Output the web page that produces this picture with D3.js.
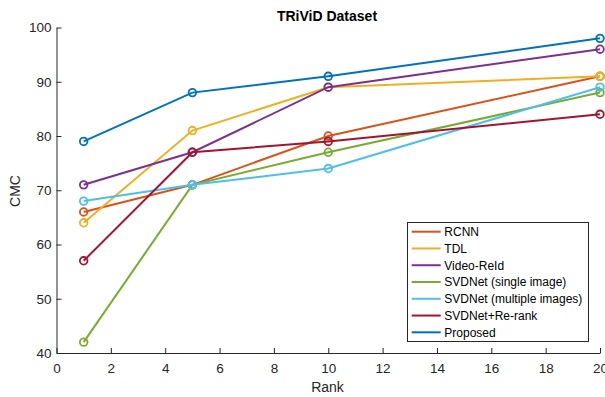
<!DOCTYPE html>
<html><head><meta charset="utf-8">
<script src="https://cdn.jsdelivr.net/npm/d3@7"></script>
<style>body{margin:0;background:#fff}svg{display:block;font-family:"Liberation Sans",Arial,sans-serif}</style>
</head><body><svg id="c" width="605" height="397"></svg>
<script>
const ranks = [1, 5, 10, 20];
const seriesNames = ["RCNN","TDL","Video-ReId","SVDNet (single image)","SVDNet (multiple images)","SVDNet+Re-rank","Proposed"];
const rcnn = [66, 71, 80, 91];
const tdl = [64, 81, 89, 91];
const videoReid = [71, 77, 89, 96];
const svdSingle = [42, 71, 77, 88];
const svdMultiple = [68, 71, 74, 89];
const svdRerank = [57, 77, 79, 84];
const proposed = [79, 88, 91, 98];
const colors = ["#D95319","#EDB120","#7E2F8E","#77AC30","#4DBEEE","#A2142F","#0072BD"];
const xTicks = [0,2,4,6,8,10,12,14,16,18,20];
const yTicks = [40,50,60,70,80,90,100];
const allValues = [rcnn, tdl, videoReid, svdSingle, svdMultiple, svdRerank, proposed];

const svg = d3.select("#c");
const x = d3.scaleLinear().domain([0,20]).range([56.5,600]);
const y = d3.scaleLinear().domain([40,100]).range([353,27.5]);
const axisColor = "#262626";

const gx = svg.append("g").attr("transform","translate(0,353)")
  .call(d3.axisBottom(x).tickValues(xTicks).tickSizeInner(-5).tickSizeOuter(0).tickPadding(10));
const gy = svg.append("g").attr("transform","translate(56.5,0)")
  .call(d3.axisLeft(y).tickValues(yTicks).tickSizeInner(-5).tickSizeOuter(0).tickPadding(5));
[gx,gy].forEach(g=>{
  g.select(".domain").attr("stroke",axisColor).attr("stroke-width",1);
  g.selectAll(".tick line").attr("stroke",axisColor);
  g.selectAll(".tick text").attr("fill",axisColor).style("font-size","13.5px").style("font-family","'Liberation Sans',Arial,sans-serif");
});

const line = d3.line().x((d,i)=>x(ranks[i])).y(d=>y(d));
allValues.forEach((vals,k)=>{
  svg.append("path").datum(vals).attr("d",line).attr("fill","none")
    .attr("stroke",colors[k]).attr("stroke-width",2);
  svg.append("g").selectAll("circle").data(vals).join("circle")
    .attr("cx",(d,i)=>x(ranks[i])).attr("cy",d=>y(d)).attr("r",3.8)
    .attr("fill","none").attr("stroke",colors[k]).attr("stroke-width",1.8);
});

svg.append("text").attr("x",327).attr("y",21).attr("text-anchor","middle")
  .style("font-size","14px").style("font-weight","bold").attr("fill","#000").text("TRiViD Dataset");
svg.append("text").attr("x",327.5).attr("y",392).attr("text-anchor","middle")
  .style("font-size","14px").attr("fill",axisColor).text("Rank");
svg.append("text").attr("transform","translate(20,191) rotate(-90)").attr("text-anchor","middle")
  .style("font-size","14px").attr("fill",axisColor).text("CMC");

const lg = svg.append("g");
lg.append("rect").attr("x",407.5).attr("y",222.5).attr("width",181).attr("height",119)
  .attr("fill","#fff").attr("stroke",axisColor).attr("stroke-width",1);
seriesNames.forEach((n,k)=>{
  const yy = 231.7 + k*16.77;
  lg.append("line").attr("x1",411.7).attr("x2",440.7).attr("y1",yy).attr("y2",yy)
    .attr("stroke",colors[k]).attr("stroke-width",2);
  lg.append("text").attr("x",444.3).attr("y",yy+4.3).style("font-size","12px").attr("fill","#000").text(n);
});
</script></body></html>
